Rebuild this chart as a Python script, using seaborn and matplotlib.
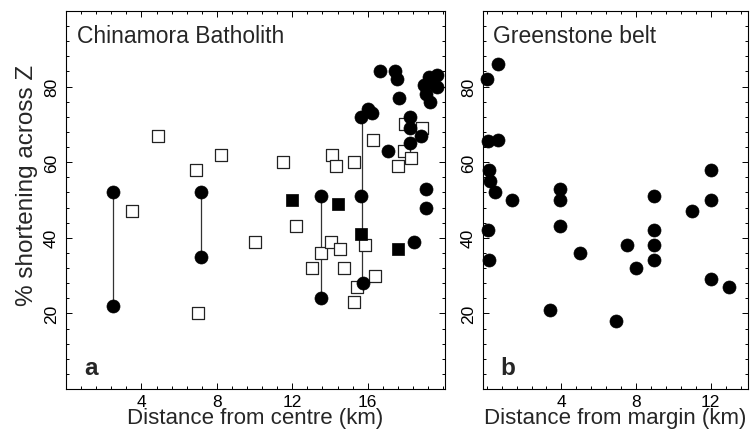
import numpy as np
import pandas as pd
import matplotlib
matplotlib.use("Agg")
import matplotlib.pyplot as plt
from matplotlib.ticker import MultipleLocator
import seaborn as sns

# ---------------- data ----------------
# Panel a: Chinamora Batholith
a_circle_x = [2.5, 2.5, 7.15, 7.15, 13.55, 13.55, 15.65, 15.65, 15.75, 16.0, 16.25,
              16.65, 17.1, 17.45, 17.55, 17.65, 18.25, 18.25, 18.25, 18.85, 18.45,
              19.0, 19.1, 19.25, 19.3, 19.7, 19.7, 19.1, 19.1, 19.4]
a_circle_y = [52, 22, 52, 35, 51, 24, 72, 51, 28, 74, 73,
              84, 63, 84, 82, 77, 72, 69, 65, 67, 39,
              80.5, 78, 82.5, 76, 83, 80, 53, 48, 81]

a_open_x = [3.5, 4.9, 6.9, 7.0, 8.2, 10.0, 11.5, 12.2, 13.05, 13.55, 14.05, 14.1, 14.3,
            14.55, 14.75, 15.25, 15.3, 15.45, 15.85, 16.3, 16.4, 17.6, 17.95, 18.0, 18.3, 18.9]
a_open_y = [47, 67, 58, 20, 62, 39, 60, 43, 32, 36, 39, 62, 59,
            37, 32, 23, 60, 27, 38, 66, 30, 59, 63, 70, 61, 69]

a_fsq_x = [12.0, 14.4, 15.65, 17.6]
a_fsq_y = [50, 49, 41, 37]

# vertical tie lines (pairs of measurements at one site)
tie_id = ["A", "A", "B", "B", "C", "C", "D", "D"]
tie_x = [2.5, 2.5, 7.15, 7.15, 13.55, 13.55, 15.7, 15.7]
tie_y = [52, 22, 52, 35, 51, 24, 72, 28]

# Panel b: Greenstone belt
b_x = [0.0, 0.6, 0.05, 0.6, 0.1, 0.15, 0.45, 1.35, 0.05, 0.1, 3.9, 3.9, 3.9, 5.0,
       3.4, 7.5, 8.0, 6.95, 8.95, 8.95, 8.95, 8.95, 11.0, 12.0, 12.0, 12.0, 13.0]
b_y = [82, 86, 65.5, 66, 58, 55, 52, 50, 42, 34, 53, 50, 43, 36,
       21, 38, 32, 18, 51, 42, 38, 34, 47, 58, 50, 29, 27]

x_ticks_a = [4, 8, 12, 16]
x_ticks_b = [4, 8, 12]
y_ticks = [20, 40, 60, 80]

# ---------------- plotting ----------------
sns.set_theme(style="ticks")
plt.rcParams['font.family'] = ['Liberation Sans', 'DejaVu Sans']

fig = plt.figure(figsize=(7.54, 4.31), dpi=100)
ax1 = fig.add_axes([66/754, 41/431, 379/754, 378/431])
ax2 = fig.add_axes([483/754, 41/431, 265/754, 378/431])

ties = pd.DataFrame({"id": tie_id, "x": tie_x, "y": tie_y})
sns.lineplot(data=ties, x="x", y="y", units="id", estimator=None, sort=False,
             color="#333333", linewidth=0.9, ax=ax1, zorder=1)

df_open = pd.DataFrame({"x": a_open_x, "y": a_open_y})
sns.scatterplot(data=df_open, x="x", y="y", marker="s", s=64, facecolor="white",
                edgecolor="#222222", linewidth=0.9, ax=ax1, zorder=2)
df_fsq = pd.DataFrame({"x": a_fsq_x, "y": a_fsq_y})
sns.scatterplot(data=df_fsq, x="x", y="y", marker="s", s=64, color="black",
                edgecolor="black", linewidth=0.5, ax=ax1, zorder=3)
df_circ = pd.DataFrame({"x": a_circle_x, "y": a_circle_y})
sns.scatterplot(data=df_circ, x="x", y="y", marker="o", s=88, color="black",
                edgecolor="black", linewidth=0.5, ax=ax1, zorder=4)

df_b = pd.DataFrame({"x": b_x, "y": b_y})
sns.scatterplot(data=df_b, x="x", y="y", marker="o", s=88, color="black",
                edgecolor="black", linewidth=0.5, ax=ax2, zorder=4, clip_on=False)

for ax, xt, xlim in ((ax1, x_ticks_a, (0, 20.1)), (ax2, x_ticks_b, (-0.2, 14.0))):
    ax.set_xlim(*xlim)
    ax.set_ylim(0, 100)
    ax.set_xticks(xt)
    ax.set_xticklabels([str(t) for t in xt])
    ax.set_yticks(y_ticks)
    ax.set_yticklabels([str(t) for t in y_ticks], rotation=90, va="center")
    ax.xaxis.set_minor_locator(MultipleLocator(0.8))
    ax.yaxis.set_minor_locator(MultipleLocator(4))
    ax.tick_params(which="both", direction="in", top=True, right=True,
                   colors="black", width=0.7, labelsize=12.5)
    ax.tick_params(which="major", length=4.5)
    ax.tick_params(which="minor", length=2.5)
    ax.tick_params(axis="x", pad=3.5)
    ax.tick_params(axis="y", pad=5)
    for sp in ax.spines.values():
        sp.set_visible(True)
        sp.set_linewidth(0.8)
        sp.set_color("black")
    ax.set_ylabel("")

ax1.set_xlabel("Distance from centre (km)", fontsize=16, labelpad=-1.5)
ax2.set_xlabel("Distance from margin (km)", fontsize=16, labelpad=-1.5)
ax1.set_ylabel("% shortening across Z", fontsize=17.5)
ax1.yaxis.set_label_coords(-0.074, 0.54)
ax2.set_ylabel("")

ax1.text(0.029, 0.965, "Chinamora Batholith", transform=ax1.transAxes,
         fontsize=16.5, va="top", ha="left")
ax2.text(0.038, 0.965, "Greenstone belt", transform=ax2.transAxes,
         fontsize=16.5, va="top", ha="left")
ax1.text(0.065, 0.058, "a", transform=ax1.transAxes, fontsize=17.5,
         fontweight="bold", va="center", ha="center")
ax2.text(0.095, 0.058, "b", transform=ax2.transAxes, fontsize=17.5,
         fontweight="bold", va="center", ha="center")

fig.savefig("out.png", dpi=100)
